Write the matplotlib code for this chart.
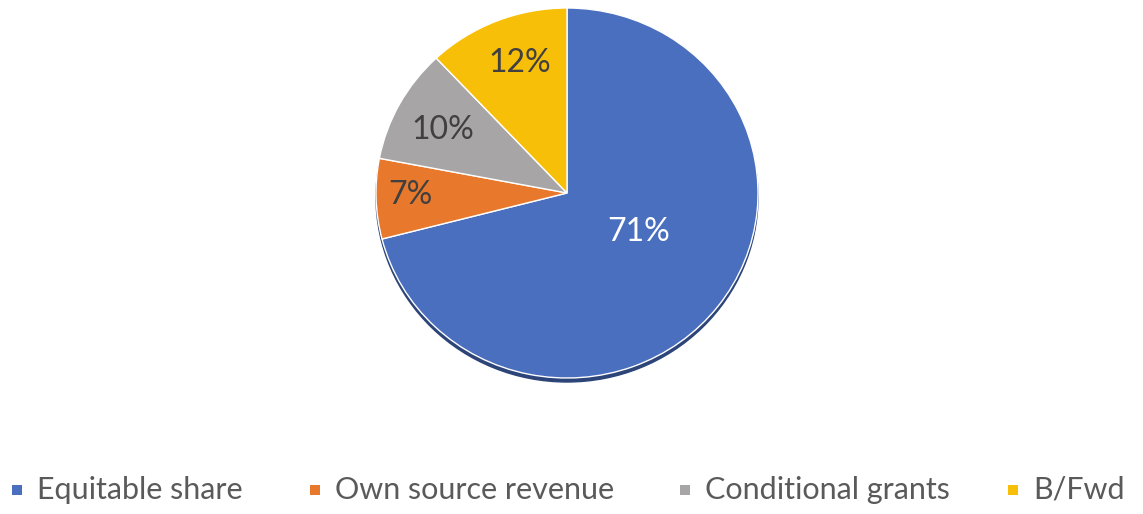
import numpy as np
import matplotlib.pyplot as plt
from matplotlib.patches import Circle, Rectangle

# Data
labels = ["Equitable share", "Own source revenue", "Conditional grants", "B/Fwd"]
shares = [71, 7, 10, 12]
colors = ["#4A6FBF", "#E8782C", "#A7A5A5", "#F8BF08"]
text_colors = ["white", "#404040", "#404040", "#404040"]

plt.rcParams['font.family'] = ['Lato', 'DejaVu Sans']

W, H = 1143, 514
fig = plt.figure(figsize=(W / 100, H / 100), dpi=100)
ax = fig.add_axes([0, 0, 1, 1])

# pie is slightly squashed vertically (tilted 3D look)
sy = 191 / 185
cx, cy, r = 567, (H - 193) * sy, 191

ax.add_patch(Circle((cx, (H - 197) * sy), r, color="#2C4478", zorder=0))
wedges, _ = ax.pie(shares, colors=colors, startangle=90, counterclock=False,
                   center=(cx, cy), radius=r, frame=True,
                   wedgeprops=dict(edgecolor="white", linewidth=1))
ax.set_aspect('auto')
ax.set_xlim(0, W)
ax.set_ylim(0, H * sy)
ax.axis('off')


def px(x, y):
    # pixel (from top-left) -> figure fraction
    return x / W, 1 - y / H


# percentage labels
label_pos = [(639, 232), (410, 195), (443, 130), (520, 63)]
for s, (x, y), tc in zip(shares, label_pos, text_colors):
    fig.text(*px(x, y), f"{s}%", ha="center", va="center", fontsize=23, color=tc)

# legend
text_x = [37, 335, 705, 1033]
for lab, c, tx in zip(labels, colors, text_x):
    sx0, sy0 = px(tx - 25, 495)
    fig.patches.append(Rectangle((sx0, sy0), 10 / W, 10 / H, transform=fig.transFigure,
                                 facecolor=c, edgecolor="none"))
    fig.text(*px(tx, 499), lab, ha="left", va="baseline", fontsize=22, color="#5a5a5a")

fig.savefig("out.png", dpi=100)
